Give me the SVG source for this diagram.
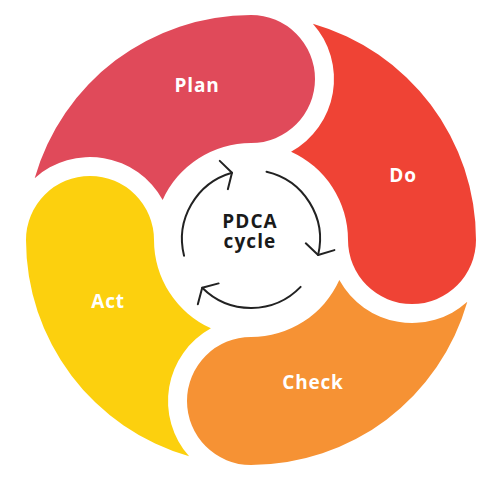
<svg xmlns="http://www.w3.org/2000/svg" width="500" height="477" viewBox="0 0 500 477">
  <defs>
    <style>
      .lbl { font-family: "Open Sans", "Liberation Sans", sans-serif; font-weight: 700; font-size: 19px; fill: #ffffff; text-anchor: middle; letter-spacing: 0.8px; }
      .ctr { font-family: "Open Sans", "Liberation Sans", sans-serif; font-weight: 700; font-size: 19px; fill: #1a1a1a; text-anchor: middle; letter-spacing: 1.1px; }
      .arc { fill: none; stroke: #222222; stroke-width: 2; stroke-linecap: round; marker-end: url(#chev); }
    </style>
    <marker id="chev" markerUnits="userSpaceOnUse" orient="auto" markerWidth="30" markerHeight="40" refX="0" refY="0" viewBox="-15 -20 30 40" overflow="visible">
      <path d="M-8.5,-14.7 L0,0 L-8.5,14.7" fill="none" stroke="#222222" stroke-width="2" stroke-linecap="round" stroke-linejoin="round"/>
    </marker>
  </defs>
  <rect width="500" height="477" fill="#ffffff"/>

  <g id="plan">
    <path d="M34.67,178.13 A225,225 0 0 1 251,15 A64,64 0 0 1 251,143 A97,97 0 0 0 162.66,199.93 A83,83 0 0 0 34.67,178.13 Z" fill="#E04A5A"/>
    <text class="lbl" x="197" y="92">Plan</text>
  </g>
  <g id="do">
    <path d="M312.87,23.67 A225,225 0 0 1 476,240 A64,64 0 0 1 348,240 A97,97 0 0 0 291.07,151.66 A83,83 0 0 0 312.87,23.67 Z" fill="#EF4335"/>
    <text class="lbl" x="403" y="182">Do</text>
  </g>
  <g id="check">
    <path d="M467.33,301.87 A225,225 0 0 1 251,465 A64,64 0 0 1 251,337 A97,97 0 0 0 339.34,280.07 A83,83 0 0 0 467.33,301.87 Z" fill="#F69234"/>
    <text class="lbl" x="313" y="389">Check</text>
  </g>
  <g id="act">
    <path d="M189.13,456.33 A225,225 0 0 1 26,240 A64,64 0 0 1 154,240 A97,97 0 0 0 210.93,328.34 A83,83 0 0 0 189.13,456.33 Z" fill="#FCD00E"/>
    <text class="lbl" x="108" y="308">Act</text>
  </g>

  <g id="center">
    <text class="ctr"><tspan x="250" y="228">PDCA</tspan><tspan x="250" y="248">cycle</tspan></text>
  </g>

  <g id="connectors">
    <path class="arc" d="M184.05,255.69 A69,69 0 0 1 231.98,172.67"/>
    <path class="arc" d="M266.52,171.77 A69,69 0 0 1 318.12,254.99"/>
    <path class="arc" d="M300.63,286.93 A69,69 0 0 1 202.21,287.79"/>
  </g>
</svg>
